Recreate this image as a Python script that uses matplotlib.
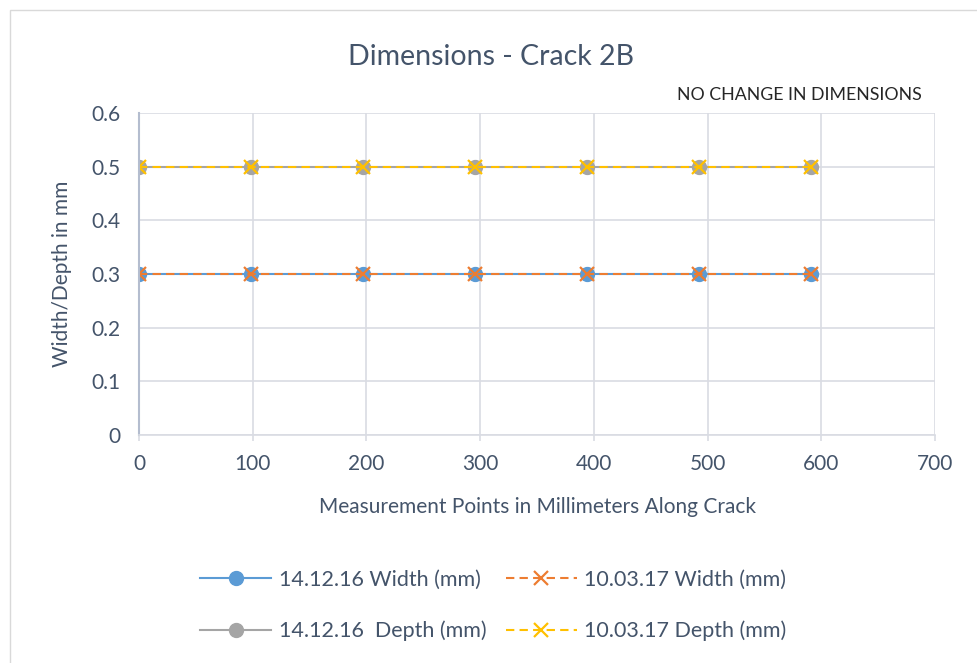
import matplotlib.pyplot as plt
from matplotlib.patches import Rectangle

# measurement positions along the crack (mm)
points = [0, 98.5, 197, 295.5, 394, 492.5, 591]

width_dec16 = [0.3, 0.3, 0.3, 0.3, 0.3, 0.3, 0.3]
width_mar17 = [0.3, 0.3, 0.3, 0.3, 0.3, 0.3, 0.3]
depth_dec16 = [0.5, 0.5, 0.5, 0.5, 0.5, 0.5, 0.5]
depth_mar17 = [0.5, 0.5, 0.5, 0.5, 0.5, 0.5, 0.5]

labels = ['14.12.16 Width (mm)', '10.03.17 Width (mm)',
          '14.12.16  Depth (mm)', '10.03.17 Depth (mm)']

txt = '#44546A'
plt.rcParams['font.family'] = ['Lato', 'DejaVu Sans']

fig = plt.figure(figsize=(9.77, 6.63), dpi=100)
ax = fig.add_axes([0.1423, 0.3439, 0.957 - 0.1423, 0.8296 - 0.3439])

# chart border
fig.patches.append(Rectangle((0.0105, -0.01), 1.0, 0.995, transform=fig.transFigure,
                             fill=False, edgecolor='#D9D9D9', linewidth=1))

l1, = ax.plot(points, width_dec16, color='#5B9BD5', lw=1.5, marker='o', ms=10,
              label=labels[0])
l3, = ax.plot(points, depth_dec16, color='#A5A5A5', lw=1.5, marker='o', ms=10,
              label=labels[2])
l2, = ax.plot(points, width_mar17, color='#ED7D31', lw=1.5, ls=(0, (4, 2.5)),
              marker='x', ms=10.5, mew=1.6, label=labels[1])
l4, = ax.plot(points, depth_mar17, color='#FFC000', lw=1.5, ls=(0, (4, 2.5)),
              marker='x', ms=10.5, mew=1.6, label=labels[3])

ax.set_xlim(0, 700)
ax.set_ylim(0, 0.6)
ax.set_xticks(range(0, 701, 100))
ax.set_yticks([0, 0.1, 0.2, 0.3, 0.4, 0.5, 0.6])
ax.set_yticklabels(['0', '0.1', '0.2', '0.3', '0.4', '0.5', '0.6'])
ax.grid(True, color='#D9DCE3', lw=1.2)
ax.set_axisbelow(True)
for s in ['top', 'right']:
    ax.spines[s].set_visible(False)
ax.spines['left'].set_color('#B4BDCF')
ax.spines['bottom'].set_color('#D9DCE3')
ax.spines['left'].set_linewidth(1.5)
ax.spines['bottom'].set_linewidth(1.2)
ax.tick_params(axis='y', length=0, labelsize=15, labelcolor=txt, pad=13)
ax.tick_params(axis='x', length=4, width=1.2, color='#D9DCE3', labelsize=15,
               labelcolor=txt, pad=10)

ax.set_xlabel('Measurement Points in Millimeters Along Crack', fontsize=15,
              color=txt, labelpad=16)
ax.set_ylabel('Width/Depth in mm', fontsize=15, color=txt, labelpad=14)
fig.text(0.503, 0.914, 'Dimensions - Crack 2B', fontsize=20.5, color=txt,
         ha='center', va='center')

fig.text(0.943, 0.857, 'NO CHANGE IN DIMENSIONS', fontsize=12.8, color='#262626',
         ha='right', va='center')

fig.legend(handles=[l1, l3, l2, l4], labels=[labels[0], labels[2], labels[1], labels[3]],
           ncol=2, loc='center', bbox_to_anchor=(0.505, 0.0867), frameon=False,
           fontsize=15.5, labelcolor=txt, handlelength=3.3, handletextpad=0.35,
           columnspacing=0.9, labelspacing=1.43)

fig.savefig('out.png', dpi=100)
